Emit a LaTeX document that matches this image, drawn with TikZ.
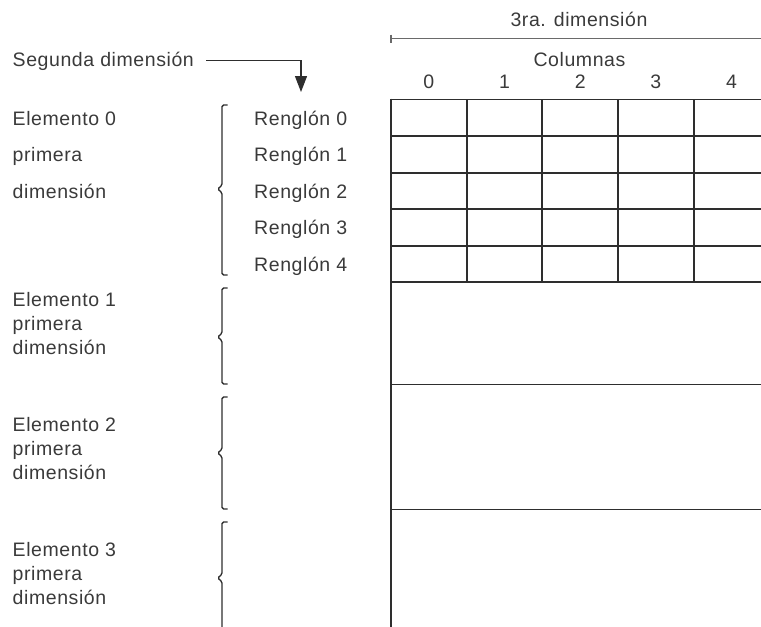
\documentclass[tikz,border=0pt]{standalone}
\usepackage{fontspec}
\setmainfont[LetterSpace=3]{Liberation Sans}
\usetikzlibrary{arrows.meta}
\definecolor{ink}{HTML}{3A3A3A}
\definecolor{rule}{HTML}{2E2E2E}
\definecolor{axis}{HTML}{6A6A6A}
\tikzset{
  lbl/.style={anchor=base west, inner sep=0pt, text=ink, font=\fontsize{19.5}{23}\selectfont},
  clbl/.style={anchor=base, inner sep=0pt, text=ink, font=\fontsize{19.5}{23}\selectfont},
  gridline/.style={draw=rule, line width=1.7pt},
  axisline/.style={draw=axis, line width=1.6pt},
  bracefig/.style={draw=rule, line width=1.3pt, rounded corners=1.6pt},
  arr/.style={draw=rule, line width=1.3pt, -{Triangle[length=16pt,width=12pt]}}
}
\begin{document}
\begin{tikzpicture}[x=1pt,y=-1pt]
\useasboundingbox (0,0) rectangle (761,627);
\clip (0,0) rectangle (761,627);

% third dimension axis and column headings
\node[clbl] (tercera) at (579,26) {3ra. dimensión};
\draw[axisline] (391,38.5) -- (770,38.5);
\draw[axisline, line width=1.2pt] (391,34.5) -- (391,42.5);
\node[clbl] (columnas) at (579.5,66.5) {Columnas};
\foreach \c [count=\i from 0] in {428.9,504.5,580.2,655.9,731.6}
  \node[clbl] (col\i) at (\c,88.5) {\i};

% grid of rows and columns
\foreach \y in {99.5,136,172.7,209.3,245.7,282.3,384.5,509.5}
  \draw[gridline] (390.2,\y) -- (770,\y);
\draw[gridline] (391,98.6) -- (391,630);
\foreach \x in {466.7,542.3,618,693.7}
  \draw[gridline] (\x,99.5) -- (\x,282.3);

% second dimension pointer
\node[lbl] (seg) at (12.5,66) {Segunda dimensión};
\coordinate (tip) at (301,92);
\draw[arr] ([xshift=12pt]seg.east) -| (tip);

% row labels
\foreach \b [count=\i from 0] in {125,161.5,198,234.5,271}
  \node[lbl] (ren\i) at (254,\b) {Renglón \i};

% first dimension labels
\node[lbl] (e0a) at (12.5,125) {Elemento 0};
\node[lbl] (e0b) at (12.5,161.5) {primera};
\node[lbl] (e0c) at (12.5,198) {dimensión};

\node[lbl] (e1a) at (12.5,306) {Elemento 1};
\node[lbl] (e1b) at (12.5,330) {primera};
\node[lbl] (e1c) at (12.5,354) {dimensión};

\node[lbl] (e2a) at (12.5,431.5) {Elemento 2};
\node[lbl] (e2b) at (12.5,455.5) {primera};
\node[lbl] (e2c) at (12.5,479.5) {dimensión};

\node[lbl] (e3a) at (12.5,556.5) {Elemento 3};
\node[lbl] (e3b) at (12.5,580.5) {primera};
\node[lbl] (e3c) at (12.5,604.5) {dimensión};

% braces grouping each element of the first dimension
\foreach \t/\m/\b in {105/189/275, 288/337/384, 397/453/509, 522/578/634}
  \draw[bracefig] (227.5,\t) -- (222,\t) -- (222,\m-3.5) -- (217.5,\m)
        -- (222,\m+3.5) -- (222,\b) -- (227.5,\b);
\end{tikzpicture}
\end{document}
